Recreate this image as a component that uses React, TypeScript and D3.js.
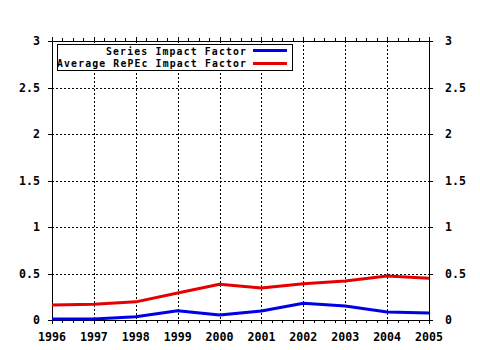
import React from "react";
import * as d3 from "d3";

const years = [1996, 1997, 1998, 1999, 2000, 2001, 2002, 2003, 2004, 2005];
const seriesIF = [0.01, 0.01, 0.035, 0.1, 0.054, 0.097, 0.18, 0.15, 0.086, 0.075];
const avgRePEcIF = [0.16, 0.17, 0.195, 0.29, 0.385, 0.344, 0.39, 0.42, 0.473, 0.45];
const yTicks = [0, 0.5, 1, 1.5, 2, 2.5, 3];
const yTickLabels = ["0", "0.5", "1", "1.5", "2", "2.5", "3"];
const seriesNames = ["Series Impact Factor", "Average RePEc Impact Factor"];
const colors = ["#0000e6", "#e60000"];

export default function App() {
  const W = 480, H = 350;
  const left = 52, right = 429, top = 41, bottom = 320;
  const x = d3.scaleLinear().domain([1996, 2005]).range([left, right]);
  const y = d3.scaleLinear().domain([0, 3]).range([bottom, top]);
  const font = "'DejaVu Sans Mono', monospace";
  const minor = d3.range(1996, 2005.001, 0.25);
  const line = d3
    .line<number>()
    .x((_, i) => x(years[i]))
    .y((d) => y(d));
  const series = [seriesIF, avgRePEcIF];
  return (
    <svg
      width={W}
      height={H}
      style={{ position: "absolute", left: 0, top: 0, background: "#fff" }}
      shapeRendering="crispEdges"
    >
      <rect x={0} y={0} width={W} height={H} fill="#fff" />
      {/* grid */}
      {years.slice(1, -1).map((yr) => (
        <line
          key={"gv" + yr}
          x1={Math.round(x(yr)) + 0.5}
          x2={Math.round(x(yr)) + 0.5}
          y1={top}
          y2={bottom}
          stroke="#000"
          strokeDasharray="2 2"
        />
      ))}
      {yTicks.slice(1, -1).map((t) => (
        <line
          key={"gh" + t}
          x1={left}
          x2={right}
          y1={Math.round(y(t)) + 0.5}
          y2={Math.round(y(t)) + 0.5}
          stroke="#000"
          strokeDasharray="2 2"
        />
      ))}
      {/* minor ticks top & bottom */}
      {minor.map((m, i) => {
        const px = Math.round(x(m)) + 0.5;
        const len = i % 4 === 0 ? 4 : 3;
        return (
          <g key={"mt" + i}>
            <line x1={px} x2={px} y1={bottom} y2={bottom + len} stroke="#000" />
            <line x1={px} x2={px} y1={top} y2={top - len} stroke="#000" />
          </g>
        );
      })}
      {/* y ticks */}
      {yTicks.map((t) => {
        const py = Math.round(y(t)) + 0.5;
        return (
          <g key={"yt" + t}>
            <line x1={left - 4} x2={left} y1={py} y2={py} stroke="#000" />
            <line x1={right} x2={right + 4} y1={py} y2={py} stroke="#000" />
          </g>
        );
      })}
      {/* frame */}
      <rect
        x={left + 0.5}
        y={top + 0.5}
        width={right - left}
        height={bottom - top}
        fill="none"
        stroke="#000"
      />
      {/* lines */}
      {series.map((s, i) => (
        <path
          key={"s" + i}
          d={line(s) || ""}
          fill="none"
          stroke={colors[i]}
          strokeWidth={3}
          shapeRendering="auto"
          strokeLinejoin="round"
        />
      ))}
      {/* y labels */}
      {yTicks.map((t, i) => (
        <g key={"yl" + t} fontFamily={font} fontWeight="bold" fontSize={11.6} fill="#000">
          <text x={40} y={y(t)} textAnchor="end" dominantBaseline="central">
            {yTickLabels[i]}
          </text>
          <text x={445} y={y(t)} textAnchor="start" dominantBaseline="central">
            {yTickLabels[i]}
          </text>
        </g>
      ))}
      {/* x labels */}
      {years.map((yr) => (
        <text
          key={"xl" + yr}
          x={x(yr)}
          y={337}
          textAnchor="middle"
          dominantBaseline="central"
          fontFamily={font}
          fontWeight="bold"
          fontSize={11.6}
          fill="#000"
        >
          {yr}
        </text>
      ))}
      {/* legend */}
      <rect x={57.5} y={44.5} width={235} height={26} fill="#fff" stroke="#000" />
      {seriesNames.map((n, i) => (
        <g key={"lg" + i}>
          <text
            x={246}
            y={51.5 + i * 11.8}
            textAnchor="end"
            dominantBaseline="central"
            fontFamily={font}
            fontWeight="bold"
            fontSize={9.8}
            textLength={n.length * 7}
            lengthAdjust="spacing"
            fill="#000"
          >
            {n}
          </text>
          <line
            x1={253}
            x2={287}
            y1={50.5 + i * 13}
            y2={50.5 + i * 13}
            stroke={colors[i]}
            strokeWidth={3}
          />
        </g>
      ))}
    </svg>
  );
}
